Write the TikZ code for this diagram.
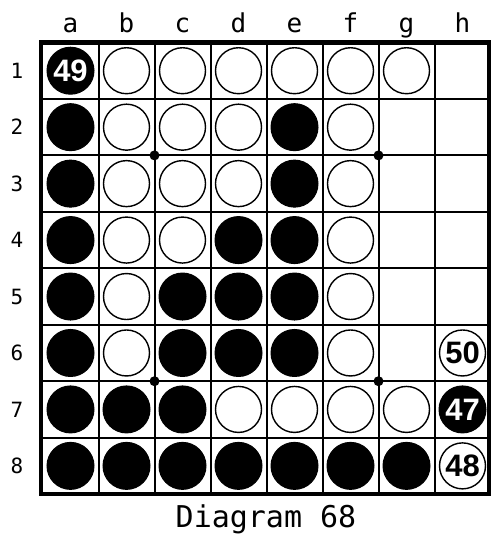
\documentclass[tikz,border=0pt]{standalone}
\usepackage{fontspec}
\setmainfont{DejaVu Sans Mono}
\newfontfamily\numfont{Liberation Sans}
\begin{document}
\begin{tikzpicture}[x=1pt,y=-1pt,
  blackdisc/.style={circle,fill=black,draw=black,line width=1pt,minimum size=47pt,inner sep=0pt},
  whitedisc/.style={circle,fill=white,draw=black,line width=1.4pt,minimum size=46pt,inner sep=0pt},
  numtext/.style={font=\numfont\bfseries\fontsize{31}{31}\selectfont},
  stardot/.style={circle,fill=black,minimum size=10pt,inner sep=0pt},
  gridline/.style={line width=2pt},
  border/.style={line width=4.5pt},
  collabel/.style={font=\fontsize{26}{26}\selectfont,anchor=base},
  rowlabel/.style={font=\fontsize{21}{21}\selectfont},
  caption/.style={font=\fontsize{30}{30}\selectfont,anchor=base}
]
\useasboundingbox (0,0) rectangle (492,534);
\fill[white] (0,0) rectangle (492,534);
% square centres
\foreach \c [count=\i from 0] in {a,b,c,d,e,f,g,h}{
  \foreach \r in {1,...,8}{
    \coordinate (sq-\c\r) at ({42.5+56*(\i+0.5)},{42.5+56.45*(\r-0.5)});
  }
}
% grid
\foreach \k in {1,...,7}{
  \draw[gridline] ({42.5+56*\k},42.5) -- ({42.5+56*\k},494);
  \draw[gridline] (41,{42.5+56.45*\k}) -- (489,{42.5+56.45*\k});
}
\draw[border] (40.8,42.5) rectangle (489,494);
% star points
\node[stardot] (s1) at (154.5,155.4) {};
\node[stardot] (s2) at (378.5,155.4) {};
\node[stardot] (s3) at (154.5,381.2) {};
\node[stardot] (s4) at (378.5,381.2) {};
% labels
\foreach \c [count=\i from 0] in {a,b,c,d,e,f,g,h}{
  \node[collabel] (col-\c) at ({42.5+56*(\i+0.5)},33) {\c};
}
\foreach \r in {1,...,8}{
  \node[rowlabel] (row-\r) at (17,{42.5+56.45*(\r-0.5)}) {\r};
}
% discs
\foreach \s in {a2,a3,a4,a5,a6,a7,a8,e2,e3,d4,e4,c5,d5,e5,c6,d6,e6,b7,c7,b8,c8,d8,e8,f8,g8}{
  \node[blackdisc] (\s) at (sq-\s) {};
}
\foreach \s in {b1,c1,d1,e1,f1,g1,b2,c2,d2,f2,b3,c3,d3,f3,b4,c4,f4,b5,f5,b6,f6,d7,e7,f7,g7}{
  \node[whitedisc] (\s) at (sq-\s) {};
}
\node[blackdisc,numtext,text=white] (a1) at (sq-a1) {49};
\node[blackdisc,numtext,text=white] (h7) at (sq-h7) {47};
\node[whitedisc,numtext] (h6) at (sq-h6) {50};
\node[whitedisc,numtext] (h8) at (sq-h8) {48};
\node[caption] (cap) at (266,527) {Diagram 68};
\end{tikzpicture}
\end{document}
